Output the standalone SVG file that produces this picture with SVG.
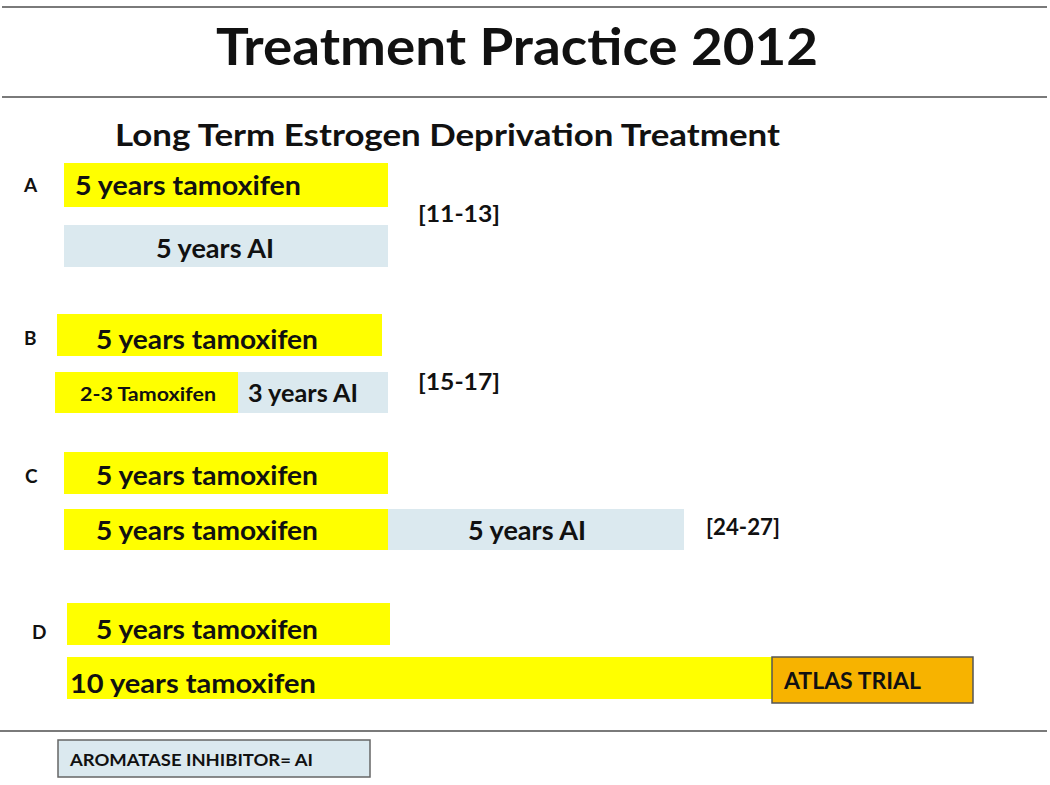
<svg xmlns="http://www.w3.org/2000/svg" width="1050" height="785" viewBox="0 0 1050 785">
<style>
text{font-family:Lato,"Open Sans","Liberation Sans",sans-serif;font-weight:bold;fill:#111}
.y{fill:#FFFF00}
.b{fill:#DBE9EF}
.t{font-size:27px}
.ref{font-size:22px}
.lab{font-size:19px}
.rule{stroke:#7a7a7a;stroke-width:2}
</style>
<rect width="1050" height="785" fill="#fff"/>
<g id="rules">
<line class="rule" x1="2" y1="7" x2="1047" y2="7"/>
<line class="rule" x1="2" y1="97" x2="1047" y2="97"/>
<line class="rule" x1="0" y1="731" x2="1047" y2="731"/>
</g>
<text x="517" y="65" font-size="52" text-anchor="middle" textLength="602" lengthAdjust="spacingAndGlyphs">Treatment Practice 2012</text>
<text x="115" y="146" font-size="31" textLength="665" lengthAdjust="spacingAndGlyphs">Long Term Estrogen Deprivation Treatment</text>

<g id="A">
<text class="lab" x="24" y="192">A</text>
<rect class="y" x="64" y="163" width="324" height="44"/>
<text class="t" x="75" y="195" textLength="226" lengthAdjust="spacingAndGlyphs">5 years tamoxifen</text>
<rect class="b" x="64" y="225" width="324" height="42"/>
<text class="t" x="215" y="258" text-anchor="middle" textLength="118" lengthAdjust="spacingAndGlyphs">5 years AI</text>
<text class="ref" x="418" y="222" textLength="82" lengthAdjust="spacingAndGlyphs">[11-13]</text>
</g>

<g id="B">
<text class="lab" x="24" y="345">B</text>
<rect class="y" x="57" y="314" width="325" height="42"/>
<text class="t" x="96" y="349" textLength="222" lengthAdjust="spacingAndGlyphs">5 years tamoxifen</text>
<rect class="y" x="55" y="372" width="183" height="41"/>
<text x="80" y="401" font-size="19" textLength="136" lengthAdjust="spacingAndGlyphs">2-3 Tamoxifen</text>
<rect class="b" x="238" y="372" width="150" height="41"/>
<text x="248" y="402" font-size="24" textLength="110" lengthAdjust="spacingAndGlyphs">3 years AI</text>
<text class="ref" x="418" y="390" textLength="82" lengthAdjust="spacingAndGlyphs">[15-17]</text>
</g>

<g id="C">
<text class="lab" x="25" y="483">C</text>
<rect class="y" x="64" y="452" width="324" height="42"/>
<text class="t" x="96" y="485" textLength="222" lengthAdjust="spacingAndGlyphs">5 years tamoxifen</text>
<rect class="y" x="64" y="509" width="324" height="41"/>
<text class="t" x="96" y="540" textLength="222" lengthAdjust="spacingAndGlyphs">5 years tamoxifen</text>
<rect class="b" x="388" y="509" width="296" height="41"/>
<text class="t" x="468" y="540" textLength="118" lengthAdjust="spacingAndGlyphs">5 years AI</text>
<text class="ref" x="706" y="535" textLength="74" lengthAdjust="spacingAndGlyphs">[24-27]</text>
</g>

<g id="D">
<text class="lab" x="32" y="639">D</text>
<rect class="y" x="67" y="603" width="323" height="42"/>
<text class="t" x="96" y="639" textLength="222" lengthAdjust="spacingAndGlyphs">5 years tamoxifen</text>
<rect class="y" x="67" y="657" width="706" height="42"/>
<text class="t" x="70" y="693" textLength="246" lengthAdjust="spacingAndGlyphs">10 years tamoxifen</text>
<rect x="772" y="657" width="201" height="46" fill="#F7B300" stroke="#555" stroke-width="1.5"/>
<text x="784" y="689" font-size="23" textLength="137" lengthAdjust="spacingAndGlyphs">ATLAS TRIAL</text>
</g>

<g id="legend">
<rect x="58" y="740" width="312" height="37" fill="#DBE9EF" stroke="#666" stroke-width="1.5"/>
<text x="70" y="766" font-size="17" textLength="243" lengthAdjust="spacingAndGlyphs">AROMATASE INHIBITOR= AI</text>
</g>
</svg>
